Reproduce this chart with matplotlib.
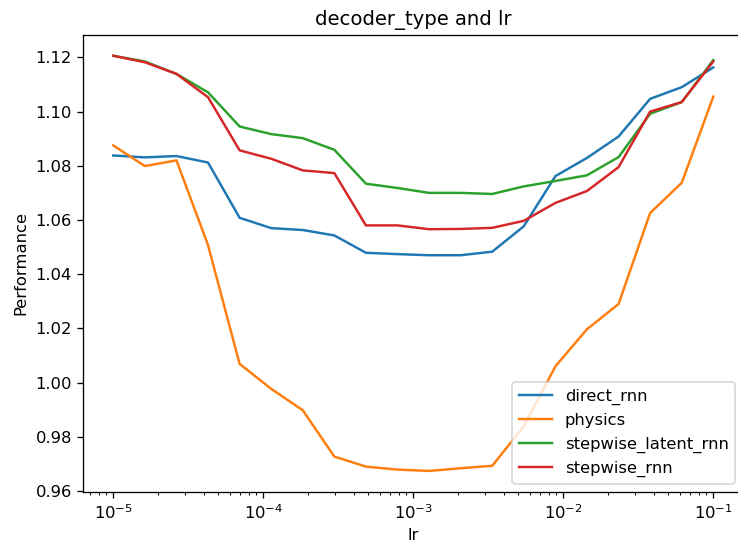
import numpy as np
import matplotlib
matplotlib.use("Agg")
import matplotlib.pyplot as plt

lr = np.logspace(-5, -1, 20)

direct_rnn = [1.0838, 1.0831, 1.0836, 1.0812, 1.0608, 1.0570, 1.0563, 1.0543,
              1.0479, 1.0474, 1.0470, 1.0470, 1.0483, 1.0577, 1.0762, 1.0829,
              1.0908, 1.1047, 1.1090, 1.1163]
physics = [1.0875, 1.0799, 1.0820, 1.0507, 1.0069, 0.9977, 0.9898, 0.9727,
           0.9690, 0.9679, 0.9674, 0.9684, 0.9693, 0.9839, 1.0060, 1.0197,
           1.0290, 1.0626, 1.0737, 1.1055]
stepwise_latent_rnn = [1.1206, 1.1185, 1.1139, 1.1071, 1.0945, 1.0917, 1.0902, 1.0859,
                       1.0734, 1.0718, 1.0700, 1.0700, 1.0696, 1.0724, 1.0744, 1.0765,
                       1.0832, 1.0992, 1.1035, 1.1190]
stepwise_rnn = [1.1206, 1.1182, 1.1139, 1.1053, 1.0857, 1.0826, 1.0783, 1.0773,
                1.0580, 1.0580, 1.0566, 1.0567, 1.0571, 1.0597, 1.0663, 1.0707,
                1.0795, 1.1000, 1.1035, 1.1185]

series = [("direct_rnn", direct_rnn), ("physics", physics),
          ("stepwise_latent_rnn", stepwise_latent_rnn), ("stepwise_rnn", stepwise_rnn)]

W, H, DPI = 738, 550, 118
fig = plt.figure(figsize=(W / DPI, H / DPI), dpi=DPI)
ax = fig.add_axes([83.3 / W, (H - 491.7) / H, 660 / W, 456.7 / H])
for name, vals in series:
    ax.plot(lr, vals, label=name)
ax.set_xscale("log")
ax.set_xlabel("lr")
ax.set_ylabel("Performance")
ax.set_title("decoder_type and lr")
ax.legend(loc="lower right")

# The reference is cut off at the right edge: hide the right spine and stop the
# top and bottom spines at the figure edge.
fig.canvas.draw()
xlo = ax.get_xlim()[0]
x_edge = ax.transData.inverted().transform((W - 0.5, 0))[0]
ax.spines["right"].set_visible(False)
ax.spines["top"].set_bounds(xlo, x_edge)
ax.spines["bottom"].set_bounds(xlo, x_edge)
fig.savefig("out.png", dpi=DPI)
